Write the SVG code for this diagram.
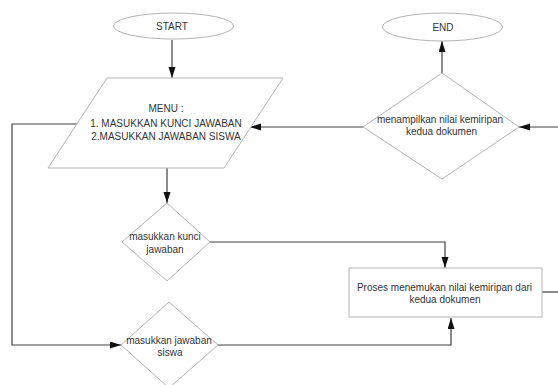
<svg xmlns="http://www.w3.org/2000/svg" width="558" height="385" viewBox="0 0 558 385">
<defs>
<style>
.shape{fill:#fff;stroke:#b4b4b4;stroke-width:1}
.conn{fill:none;stroke:#404040;stroke-width:1.2}
text{font-family:"Liberation Sans",Arial,sans-serif;font-size:10px;fill:#333;text-anchor:middle}
</style>
<marker id="arr" markerUnits="userSpaceOnUse" markerWidth="12" markerHeight="8" refX="11" refY="3.5" orient="auto">
<path d="M0,0 L11,3.5 L0,7 z" fill="#111"/>
</marker>
</defs>
<rect width="558" height="385" fill="#fff"/>
<g id="connectors">
<path class="conn" d="M172,40 V78" marker-end="url(#arr)"/>
<path class="conn" d="M167,168 V203" marker-end="url(#arr)"/>
<path class="conn" d="M210,242 H445 V268" marker-end="url(#arr)"/>
<path class="conn" d="M218,345 H451 V318" marker-end="url(#arr)"/>
<path class="conn" d="M77,124 H12 V345 H121" marker-end="url(#arr)"/>
<path class="conn" d="M542,292 H558"/>
<path class="conn" d="M558,127 H519" marker-end="url(#arr)"/>
<path class="conn" d="M363,127 H250" marker-end="url(#arr)"/>
<path class="conn" d="M442,73 V41" marker-end="url(#arr)"/>
</g>
<g id="start">
<ellipse class="shape" cx="173.5" cy="26" rx="60" ry="13"/>
<text x="172" y="30">START</text>
</g>
<g id="menu">
<polygon class="shape" points="107,78 283,78 224,168 48,168"/>
<text x="166" y="112">MENU :</text>
<text x="166" y="127">1. MASUKKAN KUNCI JAWABAN</text>
<text x="166" y="140">2.MASUKKAN JAWABAN SISWA</text>
</g>
<g id="kunci">
<polygon class="shape" points="167,203 210,242 167,281 122,242"/>
<text x="165" y="239.5">masukkan kunci</text>
<text x="165" y="252.5">jawaban</text>
</g>
<g id="siswa">
<polygon class="shape" points="169,302 218,345 169,388 121,345"/>
<text x="169" y="343.5">masukkan jawaban</text>
<text x="170" y="356">siswa</text>
</g>
<g id="proses">
<rect class="shape" x="349" y="268" width="193" height="49"/>
<text x="444.5" y="290.5">Proses menemukan nilai kemiripan dari</text>
<text x="445" y="302.5">kedua dokumen</text>
</g>
<g id="tampil">
<polygon class="shape" points="442,73 519,127 442,179 363,127"/>
<text x="440" y="122.5">menampilkan nilai kemiripan</text>
<text x="441.5" y="135">kedua dokumen</text>
</g>
<g id="end">
<ellipse class="shape" cx="442.5" cy="27" rx="60" ry="14"/>
<text x="443" y="31">END</text>
</g>
</svg>
